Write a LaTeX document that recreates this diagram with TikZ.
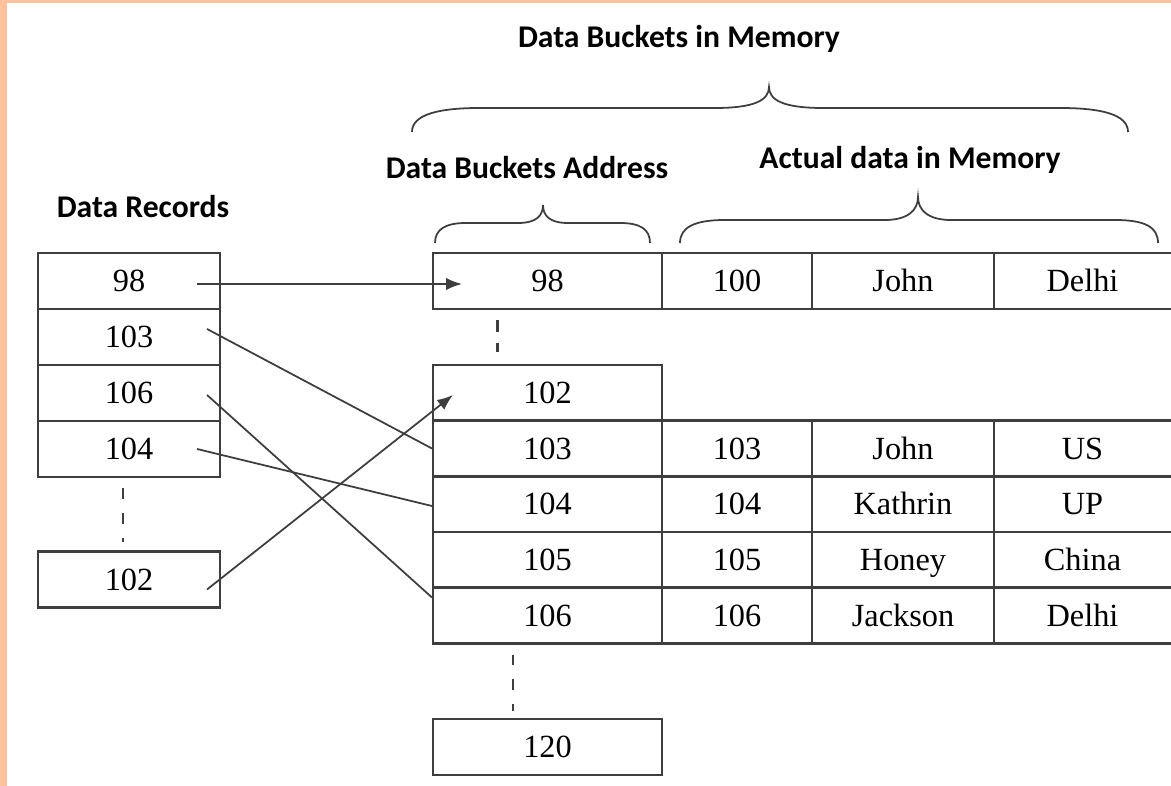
\documentclass[tikz,border=0pt]{standalone}
\usepackage{fontspec}
\setmainfont{Liberation Serif}
\newfontfamily\headfont{Carlito}
\usetikzlibrary{arrows.meta,calc}

\definecolor{peach}{RGB}{255,193,158}
\definecolor{ink}{RGB}{62,62,62}

\tikzset{
  box/.style={draw=ink, line width=1.2pt, inner sep=0pt, minimum height=1.12cm,
    text height=12.4pt, text depth=0pt, font=\fontsize{18.4}{20}\selectfont},
  reccell/.style={box, minimum width=3.64cm},
  addrcell/.style={box, minimum width=4.58cm},
  idcell/.style={box, minimum width=3.0cm},
  namecell/.style={box, minimum width=3.64cm},
  citycell/.style={box, draw=none, outer sep=0pt, minimum width=3.54cm},
  heading/.style={inner sep=0pt, text height=11.6pt, text depth=0pt,
    font=\headfont\bfseries\fontsize{18}{20}\selectfont},
  link/.style={draw=ink, line width=1pt},
  pointer/.style={link, -{Latex[length=9pt,width=7pt]}},
  gap/.style={draw=ink, line width=1.5pt, dash pattern=on 6.2pt off 7.9pt},
  bracket/.style={draw=ink, line width=1pt}
}

\begin{document}
\begin{tikzpicture}[x=0.02cm, y=-0.02cm]
% page frame with the peach edge on the left and top
\fill[peach] (0,0) rectangle (1171,786);
\fill[white] (7,3) rectangle (1171,786);
\useasboundingbox (0,0) rectangle (1171,786);

% headings
\node[heading] (hMem)  at (679,37.5) {Data Buckets in Memory};
\node[heading] (hAddr) at (527,168.5) {Data Buckets Address};
\node[heading] (hData) at (910,158) {Actual data in Memory};
\node[heading] (hRec)  at (143,207) {Data Records};

% braces
\draw[bracket] (412,132) .. controls (412,114) and (440,108) .. (480,108)
  -- (715,108) .. controls (755,108) and (769,100) .. (769,87)
  .. controls (769,100) and (783,108) .. (823,108)
  -- (1060,108) .. controls (1100,108) and (1128,114) .. (1128,132);
\draw[bracket] (435,243) .. controls (435,229) and (446,223) .. (466,223)
  -- (518,223) .. controls (536,223) and (543,216) .. (543,205)
  .. controls (543,216) and (550,223) .. (568,223)
  -- (620,223) .. controls (640,223) and (650,229) .. (650,243);
\draw[bracket] (680,243) .. controls (680,227) and (695,220) .. (725,220)
  -- (885,220) .. controls (908,220) and (918,210) .. (918,197)
  .. controls (918,210) and (928,220) .. (951,220)
  -- (1115,220) .. controls (1145,220) and (1158,227) .. (1158,243);

% data records
\node[reccell] (r98)  at (129,281) {98};
\node[reccell] (r103) at (129,337) {103};
\node[reccell] (r106) at (129,393) {106};
\node[reccell] (r104) at (129,449) {104};
\node[reccell] (r102) at (129,579.5) {102};

% bucket addresses
\node[addrcell] (a98)  at (547.5,281) {98};
\node[addrcell] (a102) at (547.5,393) {102};
\node[addrcell] (a103) at (547.5,448.5) {103};
\node[addrcell] (a104) at (547.5,504) {104};
\node[addrcell] (a105) at (547.5,560) {105};
\node[addrcell] (a106) at (547.5,615.5) {106};
\node[addrcell] (a120) at (547.5,747) {120};

% stored data
\foreach \k/\y/\id/\name/\city in {98/281/100/John/Delhi,
    103/448.5/103/John/US, 104/504/104/Kathrin/UP,
    105/560/105/Honey/China, 106/615.5/106/Jackson/Delhi}{
  \node[idcell]   (i\k) at (737,\y)    {\id};
  \node[namecell] (n\k) at (903,\y)    {\name};
  \node[citycell] (c\k) at (1082.5,\y) {\city};
  \draw[draw=ink, line width=1.2pt] (c\k.north west) -- (c\k.north east)
    (c\k.south west) -- (c\k.south east);
}

% omitted entries
\draw[gap] ($(r104.south)+(-6,10)$) -- ($(r102.north)+(-6,-8)$);
\draw[gap, dash pattern=on 6.8pt off 6.4pt] ($(a98.south)+(-50,10)$) -- ($(a102.north)+(-50,-12)$);
\draw[gap] ($(a106.south)+(-34.5,10)$) -- ($(a120.north)+(-34.5,-7)$);

% hash mapping from records to buckets
\draw[pointer] ($(r98.east)+(-24,3)$) -- ($(a98.west)+(30,3)$);
\draw[link] ($(r103.east)+(-14,-8)$) -- (a103.west);
\draw[link] ($(r106.east)+(-14,2)$) -- ($(a106.west)+(0,-18)$);
\draw[link] ($(r104.east)+(-24,0)$) -- ($(a104.west)+(0,2)$);
\draw[pointer] ($(r102.east)+(-14,10)$) -- ($(a102.west)+(21,2)$);
\end{tikzpicture}
\end{document}
